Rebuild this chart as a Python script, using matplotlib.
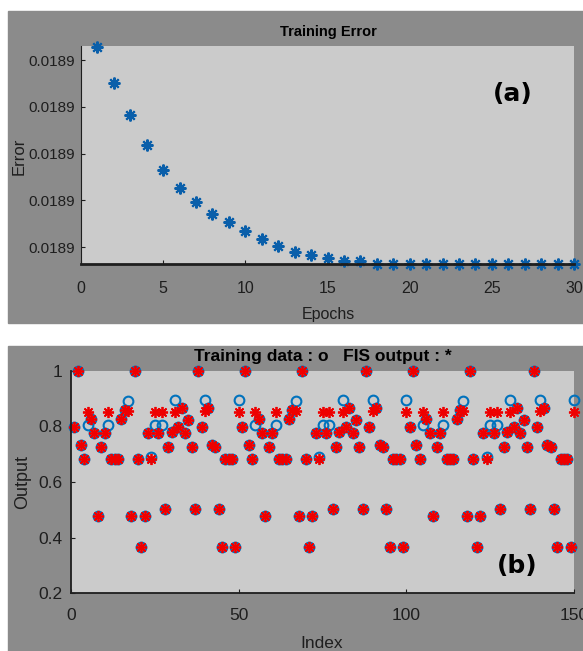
import matplotlib
matplotlib.use("Agg")
import matplotlib.pyplot as plt
from matplotlib.patches import Rectangle

W, H = 583, 651

# (a) training error per epoch
epochs = list(range(1, 31))
train_error = [0.01890855, 0.01890702, 0.01890566, 0.01890438, 0.01890332,
               0.01890251, 0.01890191, 0.01890140, 0.01890106, 0.01890068,
               0.01890034, 0.01890004, 0.01889979, 0.01889966, 0.01889953,
               0.01889940, 0.01889940, 0.01889928, 0.01889928, 0.01889928,
               0.01889928, 0.01889928, 0.01889928, 0.01889928, 0.01889928,
               0.01889928, 0.01889928, 0.01889928, 0.01889928, 0.01889928]
err_ticks = [0.018900, 0.018902, 0.018904, 0.018906, 0.018908]
err_ticklabels = ["0.0189"] * 5
epoch_ticks = [0, 5, 10, 15, 20, 25, 30]

# (b) training data (o) and FIS output (*)
index = list(range(1, 151))
training_data = [
    0.80, 1.00, 0.733, 0.683, 0.806, 0.827, 0.777, 0.477, 0.727, 0.777,
    0.806, 0.683, 0.683, 0.683, 0.826, 0.86, 0.893, 0.477, 1.00, 0.683,
    0.366, 0.477, 0.775, 0.69, 0.806, 0.775, 0.806, 0.502, 0.727, 0.78,
    0.895, 0.797, 0.868, 0.775, 0.823, 0.727, 0.502, 1.00, 0.797, 0.895,
    0.868, 0.733, 0.727, 0.502, 0.366, 0.683, 0.683, 0.683, 0.366, 0.895,
    0.80, 1.00, 0.733, 0.683, 0.806, 0.827, 0.777, 0.477, 0.727, 0.777,
    0.806, 0.683, 0.683, 0.683, 0.826, 0.86, 0.893, 0.477, 1.00, 0.683,
    0.366, 0.477, 0.775, 0.69, 0.806, 0.775, 0.806, 0.502, 0.727, 0.78,
    0.895, 0.797, 0.868, 0.775, 0.823, 0.727, 0.502, 1.00, 0.797, 0.895,
    0.868, 0.733, 0.727, 0.502, 0.366, 0.683, 0.683, 0.683, 0.366, 0.895,
    0.80, 1.00, 0.733, 0.683, 0.806, 0.827, 0.777, 0.477, 0.727, 0.777,
    0.806, 0.683, 0.683, 0.683, 0.826, 0.86, 0.893, 0.477, 1.00, 0.683,
    0.366, 0.477, 0.775, 0.69, 0.806, 0.775, 0.806, 0.502, 0.727, 0.78,
    0.895, 0.797, 0.868, 0.775, 0.823, 0.727, 0.502, 1.00, 0.797, 0.895,
    0.868, 0.733, 0.727, 0.502, 0.366, 0.683, 0.683, 0.683, 0.366, 0.895,
]
fis_output = [
    0.80, 1.00, 0.733, 0.683, 0.852, 0.827, 0.777, 0.477, 0.727, 0.777,
    0.852, 0.683, 0.683, 0.683, 0.826, 0.86, 0.857, 0.477, 1.00, 0.683,
    0.366, 0.477, 0.775, 0.683, 0.852, 0.775, 0.852, 0.502, 0.727, 0.78,
    0.852, 0.797, 0.868, 0.775, 0.823, 0.727, 0.502, 1.00, 0.797, 0.857,
    0.868, 0.733, 0.727, 0.502, 0.366, 0.683, 0.683, 0.683, 0.366, 0.852,
    0.80, 1.00, 0.733, 0.683, 0.852, 0.827, 0.777, 0.477, 0.727, 0.777,
    0.852, 0.683, 0.683, 0.683, 0.826, 0.86, 0.857, 0.477, 1.00, 0.683,
    0.366, 0.477, 0.775, 0.683, 0.852, 0.775, 0.852, 0.502, 0.727, 0.78,
    0.852, 0.797, 0.868, 0.775, 0.823, 0.727, 0.502, 1.00, 0.797, 0.857,
    0.868, 0.733, 0.727, 0.502, 0.366, 0.683, 0.683, 0.683, 0.366, 0.852,
    0.80, 1.00, 0.733, 0.683, 0.852, 0.827, 0.777, 0.477, 0.727, 0.777,
    0.852, 0.683, 0.683, 0.683, 0.826, 0.86, 0.857, 0.477, 1.00, 0.683,
    0.366, 0.477, 0.775, 0.683, 0.852, 0.775, 0.852, 0.502, 0.727, 0.78,
    0.852, 0.797, 0.868, 0.775, 0.823, 0.727, 0.502, 1.00, 0.797, 0.857,
    0.868, 0.733, 0.727, 0.502, 0.366, 0.683, 0.683, 0.683, 0.366, 0.852,
]
output_ticks = [0.2, 0.4, 0.6, 0.8, 1.0]
output_ticklabels = ["0.2", "0.4", "0.6", "0.8", "1"]
index_ticks = [0, 50, 100, 150]

OUTER = "#8b8b8b"
INNER = "#cbcbcb"
INK = "#1e1e1e"
SANS = ["Liberation Sans", "DejaVu Sans"]
ASTERISK = (8, 2, 0)


def fx(px):
    return px / W


def fy(py):
    return 1 - py / H


def box(left, top, right, bottom):
    return [fx(left), fy(bottom), fx(right) - fx(left), fy(top) - fy(bottom)]


fig = plt.figure(figsize=(W / 100, H / 100), dpi=100, facecolor="white")

# grey panels behind each plot
fig.patches.append(Rectangle((fx(8), fy(323)), 1 - fx(8), fy(11) - fy(323),
                             transform=fig.transFigure, color=OUTER, zorder=-5))
fig.patches.append(Rectangle((fx(8), 0), 1 - fx(8), fy(346),
                             transform=fig.transFigure, color=OUTER, zorder=-5))

# --- (a) Training error ---
ax1 = fig.add_axes(box(81, 46, 574, 264))
ax1.set_zorder(2)
ax1.set_facecolor(INNER)
ax1.plot(epochs, train_error, linestyle="none", marker=ASTERISK, ms=8.5,
         mew=1.5, color="#0a5faa", clip_on=False)
ax1.set_xlim(0, 30)
ax1.set_ylim(0.01889928, 0.0189086)
ax1.set_xticks(epoch_ticks)
ax1.set_yticks(err_ticks)
ax1.set_yticklabels(err_ticklabels)
for s in ["top", "right"]:
    ax1.spines[s].set_visible(False)
ax1.spines["left"].set_linewidth(0.8)
ax1.spines["bottom"].set_linewidth(2.0)
for s in ["left", "bottom"]:
    ax1.spines[s].set_color(INK)
ax1.tick_params(axis="x", direction="in", length=3, pad=12, colors=INK,
                labelsize=11.5)
ax1.tick_params(axis="y", direction="in", length=3, pad=4, colors=INK,
                labelsize=11)
for lab in ax1.get_xticklabels() + ax1.get_yticklabels():
    lab.set_family(SANS)

fig.text(fx(328), fy(32), "Training Error", ha="center", va="center",
         fontsize=10.5, fontweight="bold", family=SANS, color="black")
fig.text(fx(328), fy(315), "Epochs", ha="center", va="center",
         fontsize=11.5, family=SANS, color=INK)
fig.text(fx(19), fy(156), "Error", ha="center", va="center", rotation=90,
         fontsize=12, family=SANS, color=INK)
fig.text(fx(513), fy(94), "(a)", ha="center", va="center",
         fontsize=18, fontweight="bold", family="DejaVu Sans", color="black")

# --- (b) Training data vs FIS output ---
ax2 = fig.add_axes(box(71, 371, 574, 593))
ax2.set_zorder(2)
ax2.set_facecolor(INNER)
ax2.plot(index, training_data, linestyle="none", marker="o", ms=7,
         mfc="none", mew=1.5, color="#0072bd", clip_on=False)
ax2.plot(index, fis_output, linestyle="none", marker=ASTERISK, ms=8,
         mew=1.3, color="#ee0000", clip_on=False)
ax2.set_xlim(0, 150)
ax2.set_ylim(0.2, 1.0)
ax2.set_xticks(index_ticks)
ax2.set_yticks(output_ticks)
ax2.set_yticklabels(output_ticklabels)
for s in ["top", "right"]:
    ax2.spines[s].set_visible(False)
for s in ["left", "bottom"]:
    ax2.spines[s].set_linewidth(1.3)
    ax2.spines[s].set_color(INK)
ax2.tick_params(axis="x", direction="in", length=3, pad=11, colors=INK,
                labelsize=12.5)
ax2.tick_params(axis="y", direction="in", length=3, pad=6, colors=INK,
                labelsize=12.5)
for lab in ax2.get_xticklabels() + ax2.get_yticklabels():
    lab.set_family(SANS)

fig.text(fx(323), fy(356), "Training data : o   FIS output : *",
         ha="center", va="center", fontsize=12.5, fontweight="bold",
         family=SANS, color="black")
fig.text(fx(322), fy(643), "Index", ha="center", va="center",
         fontsize=12.5, family=SANS, color=INK)
fig.text(fx(23), fy(482), "Output", ha="center", va="center", rotation=90,
         fontsize=13, family=SANS, color=INK)
fig.text(fx(517), fy(566), "(b)", ha="center", va="center",
         fontsize=18, fontweight="bold", family="DejaVu Sans", color="black")

fig.savefig("out.png", dpi=100, facecolor="white")
